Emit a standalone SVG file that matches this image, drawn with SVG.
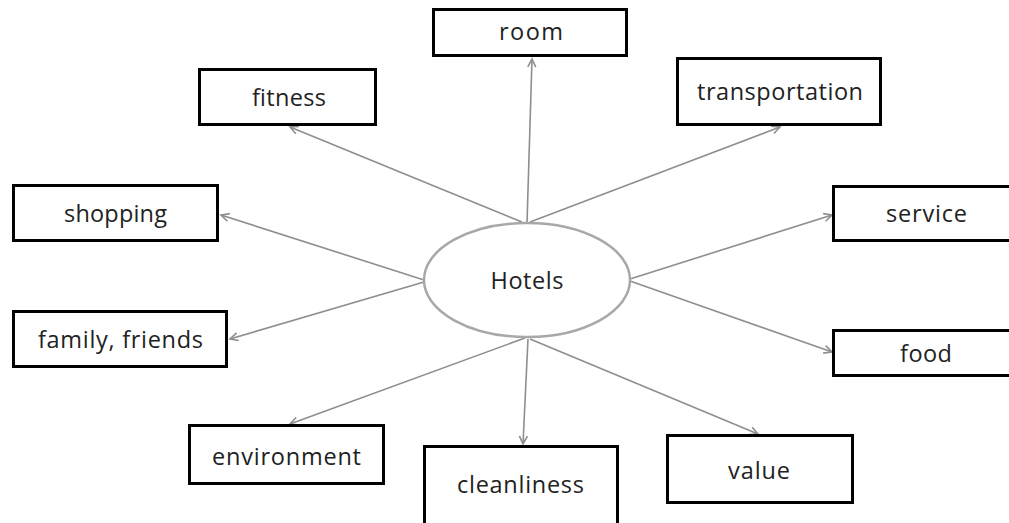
<svg xmlns="http://www.w3.org/2000/svg" width="1009" height="523" viewBox="0 0 1009 523">
  <style>
    .box { fill: #ffffff; stroke: #000000; stroke-width: 3; }
    .hub { fill: #ffffff; stroke: #a8a8a8; stroke-width: 2.5; }
    .label { font-family: "Open Sans", "Liberation Sans", sans-serif; font-size: 23.5px; fill: #222222; text-anchor: middle; }
    .link { fill: none; stroke: #8e8e8e; stroke-width: 1.6; marker-end: url(#arrow); }
  </style>
  <defs>
    <marker id="arrow" markerUnits="userSpaceOnUse" markerWidth="12" markerHeight="12" refX="9" refY="5" orient="auto">
      <path d="M1,1 L9,5 L1,9" fill="none" stroke="#8e8e8e" stroke-width="1.6"/>
    </marker>
  </defs>
  <rect width="1009" height="523" fill="#ffffff"/>

  <!-- spokes from the central topic out to each aspect -->
  <g id="connectors">
    <line class="link" x1="527" y1="223" x2="532" y2="59"/>
    <line class="link" x1="530" y1="222" x2="780" y2="127"/>
    <line class="link" x1="522" y1="222" x2="290" y2="127"/>
    <line class="link" x1="424" y1="280" x2="221" y2="215"/>
    <line class="link" x1="424" y1="282" x2="230" y2="339"/>
    <line class="link" x1="630" y1="279" x2="832" y2="215"/>
    <line class="link" x1="630" y1="281" x2="832" y2="352"/>
    <line class="link" x1="525" y1="338" x2="290" y2="424"/>
    <line class="link" x1="528" y1="339" x2="523" y2="444"/>
    <line class="link" x1="530" y1="339" x2="758" y2="434"/>
  </g>

  <g id="hotels">
    <ellipse class="hub" cx="527" cy="280" rx="103" ry="57"/>
    <text class="label" x="527" y="289" textLength="73">Hotels</text>
  </g>

  <g id="room">
    <rect class="box" x="433.5" y="9.5" width="193" height="46"/>
    <text class="label" x="531" y="40" textLength="64">room</text>
  </g>

  <g id="fitness">
    <rect class="box" x="199.5" y="69.5" width="176" height="55"/>
    <text class="label" x="289" y="105.5" textLength="74">fitness</text>
  </g>

  <g id="transportation">
    <rect class="box" x="677.5" y="58.5" width="203" height="66"/>
    <text class="label" x="780" y="100" textLength="166">transportation</text>
  </g>

  <g id="shopping">
    <rect class="box" x="13.5" y="185.5" width="204" height="55"/>
    <text class="label" x="115.5" y="221.5" textLength="103">shopping</text>
  </g>

  <g id="service">
    <rect class="box" x="833.5" y="186.5" width="186" height="54"/>
    <text class="label" x="926.5" y="222" textLength="81">service</text>
  </g>

  <g id="family-friends">
    <rect class="box" x="13.5" y="311.5" width="213" height="55"/>
    <text class="label" x="120.5" y="347.5" textLength="165">family, friends</text>
  </g>

  <g id="food">
    <rect class="box" x="833.5" y="330.5" width="186" height="45"/>
    <text class="label" x="926" y="361.5" textLength="52">food</text>
  </g>

  <g id="environment">
    <rect class="box" x="189.5" y="425.5" width="194" height="58"/>
    <text class="label" x="286.5" y="465" textLength="149">environment</text>
  </g>

  <g id="cleanliness">
    <rect class="box" x="424.5" y="446.5" width="193" height="90"/>
    <text class="label" x="520.5" y="493" textLength="127">cleanliness</text>
  </g>

  <g id="value">
    <rect class="box" x="667.5" y="435.5" width="185" height="67"/>
    <text class="label" x="759" y="479" textLength="62">value</text>
  </g>
</svg>
